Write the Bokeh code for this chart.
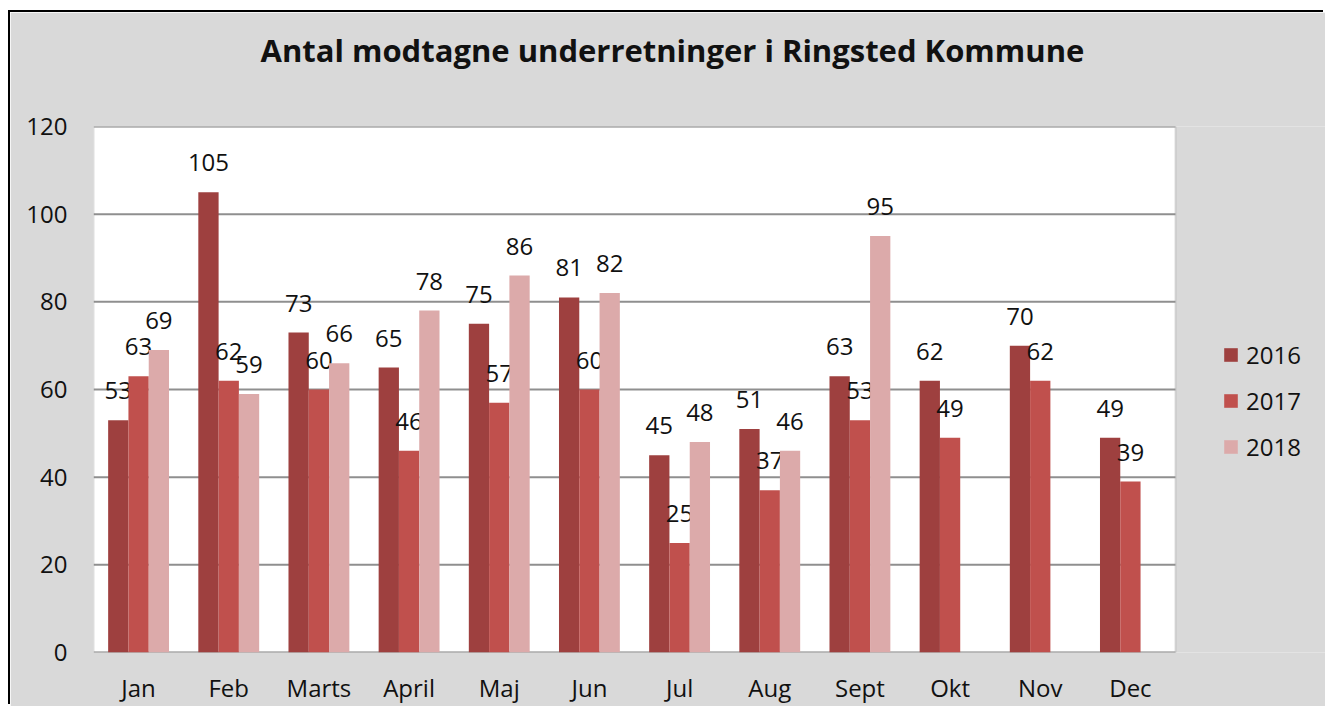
from bokeh.plotting import figure
from bokeh.models import (Range1d, ColumnDataSource, Legend, LegendItem, BoxAnnotation,
                          FixedTicker)
from bokeh.transform import dodge
from bokeh.core.properties import value
from bokeh.embed import file_html
from bokeh.resources import INLINE

months = ["Jan", "Feb", "Marts", "April", "Maj", "Jun", "Jul", "Aug", "Sept", "Okt", "Nov", "Dec"]
years = ["2016", "2017", "2018"]
v2016 = [53, 105, 73, 65, 75, 81, 45, 51, 63, 62, 70, 49]
v2017 = [63, 62, 60, 46, 57, 60, 25, 37, 53, 49, 62, 39]
v2018 = [69, 59, 66, 78, 86, 82, 48, 46, 95, None, None, None]
y_ticks = [0, 20, 40, 60, 80, 100, 120]
title_text = "Antal modtagne underretninger i Ringsted Kommune"

colors = ["#9e403f", "#c0504d", "#dcaaaa"]
offsets = [-0.225, 0.0, 0.225]
FONT = "Open Sans"
BG = "#d9d9d9"
TXT = "#111111"

n = len(months)
centers = [i + 0.5 for i in range(n)]

W, H = 1315, 694
LEFT, TOP, BOTTOM = 83, 101, 54
frame_w = W - LEFT
plot_px = 1082  # pixel width of the white plotting area
x_end = n * frame_w / plot_px

p = figure(
    width=W, height=H,
    x_range=Range1d(0, x_end),
    y_range=Range1d(0, 120),
    output_backend="svg", toolbar_location=None,
    min_border_left=LEFT, min_border_right=0, min_border_top=TOP, min_border_bottom=BOTTOM,
    margin=(12, 0, 0, 10),
    styles={"box-shadow": "-2px -2px 0 0 #000"},
)
p.background_fill_color = BG
p.border_fill_color = BG
p.outline_line_color = None
p.xgrid.grid_line_color = None
p.ygrid.grid_line_color = None

# white plotting area with grey outline
p.add_layout(BoxAnnotation(left=0, right=n, bottom=0, top=120, fill_color="white", fill_alpha=1,
                           line_color="#959595", line_width=2, level="underlay"))
# horizontal gridlines limited to plotting area (drawn before the bars)
p.segment(x0=[0] * len(y_ticks), x1=[n] * len(y_ticks), y0=y_ticks, y1=y_ticks,
          line_color="#8f8f8f", line_width=2)

# axes styling (bottom x axis and left y axis)
xb = p.below[0]
yl = p.left[0]
yl.ticker = FixedTicker(ticks=y_ticks)
xb.ticker = FixedTicker(ticks=centers)
xb.major_label_overrides = {c: m for c, m in zip(centers, months)}
for ax in (xb, yl):
    ax.axis_line_color = None
    ax.major_tick_line_color = None
    ax.minor_tick_line_color = None
    ax.major_tick_out = 0
    ax.major_tick_in = 0
    ax.minor_tick_out = 0
    ax.major_label_text_font = FONT
    ax.major_label_text_font_size = "24px"
    ax.major_label_text_color = TXT
yl.major_label_standoff = 26
xb.major_label_standoff = 18

# title with an empty second line, which lifts it away from the plotting area
p.title.text = title_text + "\n "
p.title.align = "left"
p.title.offset = 167
p.title.text_font = FONT
p.title.text_font_size = "31px"
p.title.text_font_style = "bold"
p.title.text_color = TXT
p.title.standoff = 28

renderers = []
for yr, vals, col, off in zip(years, [v2016, v2017, v2018], colors, offsets):
    xs = [c for c, v in zip(centers, vals) if v is not None]
    ys = [v for v in vals if v is not None]
    src = ColumnDataSource(dict(x=xs, top=ys, label=[str(v) for v in ys]))
    r = p.vbar(x=dodge("x", off), top="top", width=0.225, source=src,
               fill_color=col, line_color=None)
    renderers.append((yr, r))
    p.text(x=dodge("x", off), y="top", text="label", source=src,
           text_align="center", text_baseline="bottom", y_offset=-21,
           text_font=value(FONT), text_font_size="24px", text_color=TXT)

legend = Legend(
    items=[LegendItem(label=yr, renderers=[r]) for yr, r in renderers],
    location=(1129, 189),
    orientation="vertical",
    background_fill_alpha=0, border_line_color=None,
    label_text_font=FONT, label_text_font_size="24px", label_text_color=TXT,
    glyph_width=17, glyph_height=17, label_height=26, spacing=13, padding=0, margin=0,
    label_standoff=7,
)
p.add_layout(legend, "center")

open("out.html", "w").write(file_html(p, INLINE))
